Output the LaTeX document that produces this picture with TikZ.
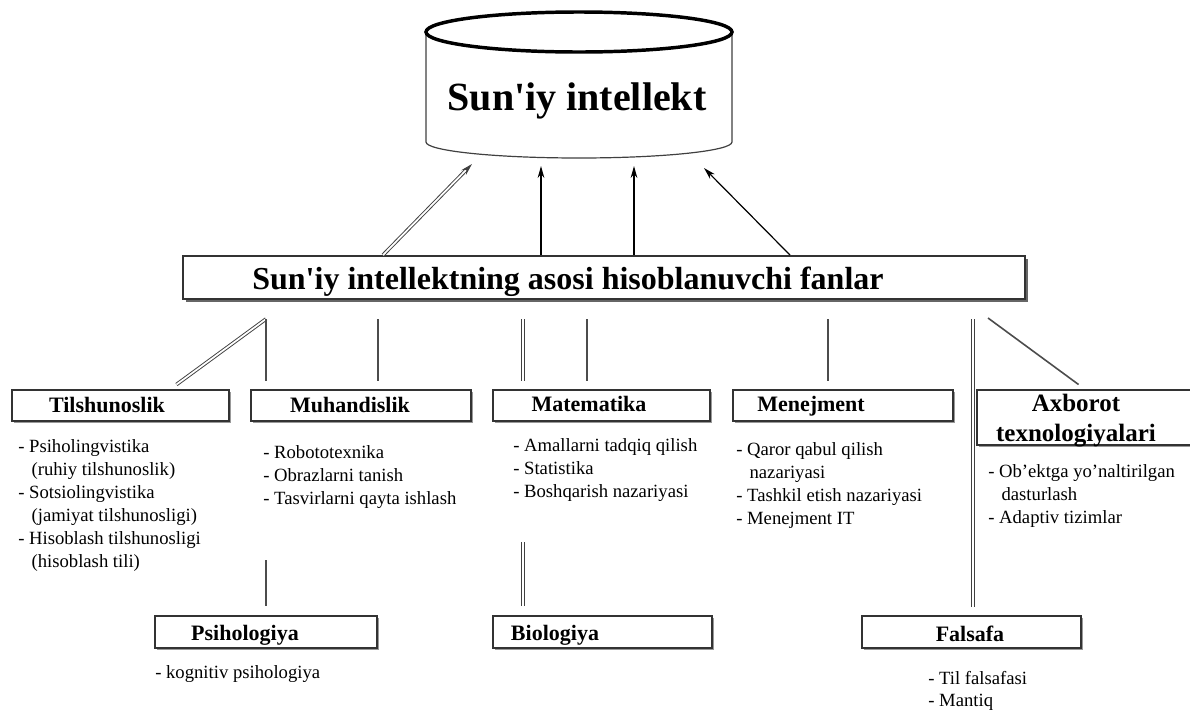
\documentclass[tikz,border=0pt]{standalone}
\usepackage{fontspec}
\setmainfont{Liberation Serif}
\usetikzlibrary{arrows.meta,shadows}

\tikzset{
  fan/.style={draw=black!80, line width=1.1pt, fill=white, inner sep=0pt},
  fanbox/.style={fan, drop shadow={shadow xshift=1.5pt, shadow yshift=-1.5pt, fill=black!40, opacity=1}},
  fanname/.style={font=\bfseries\fontsize{16.5}{18}\selectfont, anchor=base, inner sep=0pt},
  items/.style={font=\fontsize{14}{17.25}\selectfont, align=left, anchor=north west, inner sep=0pt},
  link/.style={line width=1.2pt, draw=black!70},
  twin/.style={line width=0.7pt, draw=black!75, double=white, double distance=1.3pt},
  tobox/.style={shorten >=6pt},
  up/.style={-{Stealth[length=9pt,width=5pt]}, line width=0.9pt}
}

\begin{document}
\begin{tikzpicture}[x=0.75pt, y=-0.75pt]
\useasboundingbox (0,0) rectangle (1190,711);

% cylinder on top
\draw[line width=0.9pt, black!75, fill=white] (426,32) -- (426,142)
  arc[start angle=180, end angle=360, x radius=114.75pt, y radius=12pt] -- (732,32);
\draw[line width=2.6pt] (579,32) ellipse [x radius=114.75pt, y radius=15pt];
\node[font=\bfseries\fontsize{30}{32}\selectfont, anchor=base] (ai) at (577,110) {Sun\textquotesingle iy intellekt};

% main box
\node[fan, line width=1.4pt, minimum width=631.5pt, minimum height=32.25pt,
  drop shadow={shadow xshift=2.5pt, shadow yshift=-2.5pt, fill=black!60, opacity=1}] (fanlar) at (604,277.5) {};
\node[font=\bfseries\fontsize{24}{26}\selectfont, anchor=base, inner sep=0pt] (fanlarT) at (568,289)
  {Sun\textquotesingle iy intellektning asosi hisoblanuvchi fanlar};

% arrows up
\coordinate (h1) at (472,164);
\coordinate (h2) at (541,166);
\coordinate (h3) at (634,166);
\coordinate (h4) at (704,168);
\draw[up, twin] (fanlar.north -| 383,0) -- (h1);
\draw[up] (fanlar.north -| 541,0) -- (h2);
\draw[up] (fanlar.north -| 634,0) -- (h3);
\draw[up] (fanlar.north -| 790,0) -- (h4);

% second row
\node[fanbox, minimum width=162.75pt, minimum height=23.25pt] (tils) at (120.5,405.5) {};
\node[fanname] (tilsT) at (107,412) {Tilshunoslik};
\node[fanbox, minimum width=165pt, minimum height=23.25pt] (muh) at (361,405.5) {};
\node[fanname] (muhT) at (350,412) {Muhandislik};
\node[fanbox, minimum width=162.75pt, minimum height=23.25pt] (mat) at (601.5,405.5) {};
\node[fanname] (matT) at (589,411) {Matematika};
\node[fanbox, minimum width=165pt, minimum height=23.25pt] (men) at (843,405.5) {};
\node[fanname] (menT) at (811,411) {Menejment};
\node[fanbox, minimum width=165pt, minimum height=41.25pt] (axb) at (1087,417.5) {};
\node[font=\bfseries\fontsize{18.75}{22.5}\selectfont, align=center, inner sep=0pt] (axbT) at (1076,421)
  {Axborot\\texnologiyalari};

% third row
\node[fanbox, minimum width=166.5pt, minimum height=24pt] (psi) at (266,632) {};
\node[fanname] (psiT) at (245,640) {Psihologiya};
\node[fanbox, minimum width=164.25pt, minimum height=24pt] (bio) at (602.5,632) {};
\node[fanname] (bioT) at (555,640) {Biologiya};
\node[fanbox, minimum width=164.25pt, minimum height=24pt] (fal) at (971.5,632) {};
\node[fanname] (falT) at (970,641) {Falsafa};

% branches
\coordinate (t1) at (266,319);
\coordinate (t2) at (378,319);
\coordinate (t3) at (523,319);
\coordinate (t4) at (587,319);
\coordinate (t5) at (828,319);
\coordinate (t6) at (973,319);
\coordinate (t7) at (988,318);
\coordinate (t8) at (266,560);
\coordinate (t9) at (523,542);
\draw[twin, tobox] (t1) -- (tils.north -| 170,0);
\draw[link, tobox] (t1) -- (t1 |- tils.north);
\draw[link, tobox] (t2) -- (t2 |- muh.north);
\draw[twin, tobox] (t3) -- (t3 |- mat.north);
\draw[link, tobox] (t4) -- (t4 |- mat.north);
\draw[link, tobox] (t5) -- (t5 |- men.north);
\draw[twin, tobox] (t6) -- (t6 |- fal.north);
\draw[link, tobox] (t7) -- (axb.north -| 1085,0);
\draw[link, tobox, shorten >=7pt] (t8) -- (t8 |- psi.north);
\draw[twin, tobox, shorten >=7pt] (t9) -- (t9 |- bio.north);

% lists
\node[items] (tilsL) at (18,439) {- Psiholingvistika\\ \hspace*{10pt}(ruhiy tilshunoslik)\\
  - Sotsiolingvistika\\ \hspace*{10pt}(jamiyat tilshunosligi)\\
  - Hisoblash tilshunosligi\\ \hspace*{10pt}(hisoblash tili)};
\node[items] (muhL) at (263,445) {- Robototexnika\\ - Obrazlarni tanish\\ - Tasvirlarni qayta ishlash};
\node[items] (matL) at (513,438) {- Amallarni tadqiq qilish\\ - Statistika\\ - Boshqarish nazariyasi};
\node[items] (menL) at (736,442) {- Qaror qabul qilish\\ \hspace*{10pt}nazariyasi\\
  - Tashkil etish nazariyasi\\ - Menejment IT};
\node[items] (axbL) at (988,464) {- Ob'ektga yo'naltirilgan\\ \hspace*{10pt}dasturlash\\ - Adaptiv tizimlar};
\node[items] (psiL) at (155,665) {- kognitiv psihologiya};
\node[items, font=\fontsize{14}{16.5}\selectfont] (falL) at (928,671) {- Til falsafasi\\ - Mantiq};
\end{tikzpicture}
\end{document}
